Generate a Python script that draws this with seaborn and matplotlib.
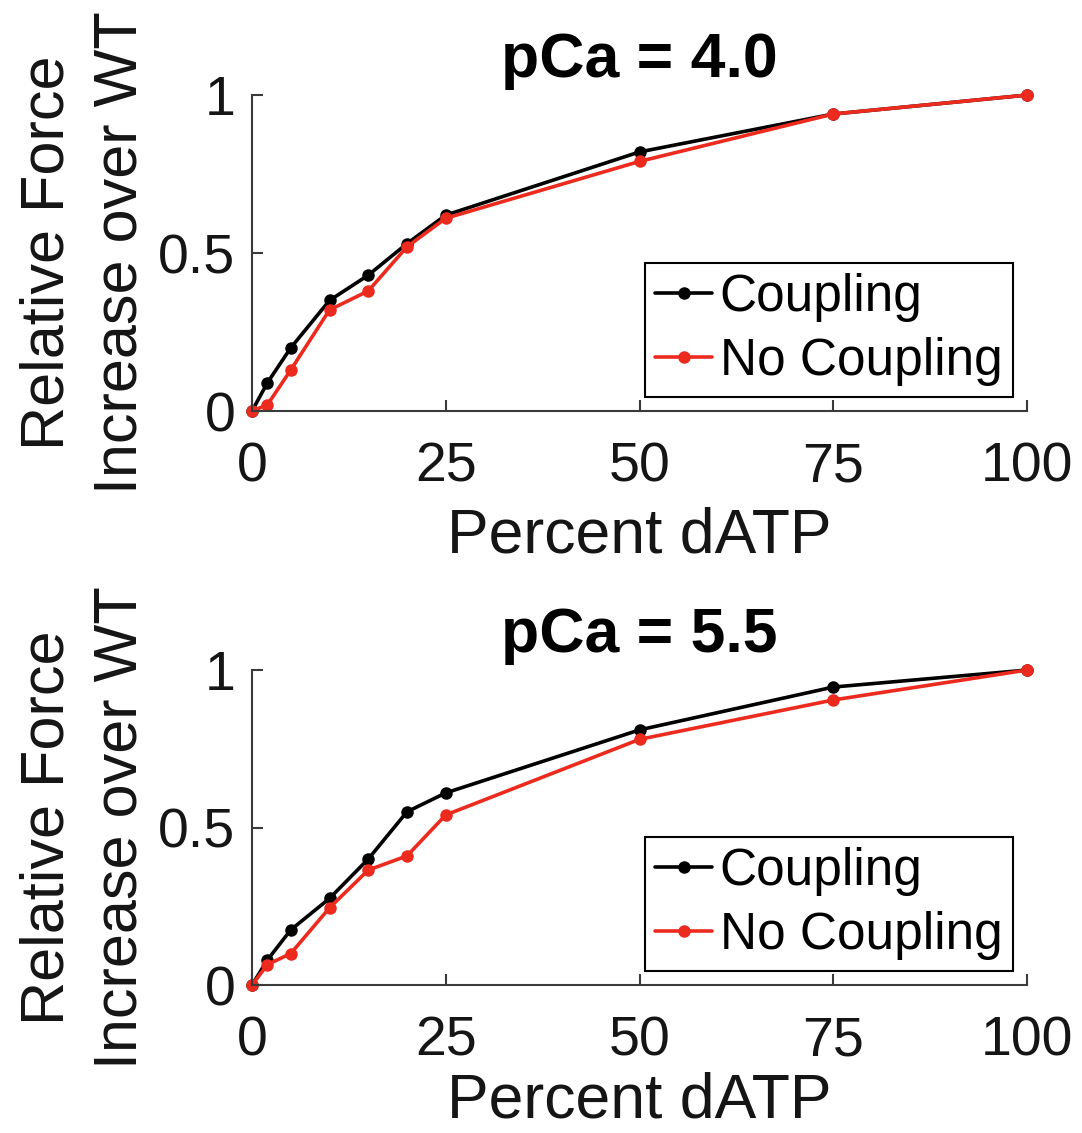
import numpy as np
import pandas as pd
import matplotlib
matplotlib.use("Agg")
import matplotlib.pyplot as plt
import seaborn as sns

# percent dATP levels used in both panels
pct_datp = [0, 2, 5, 10, 15, 20, 25, 50, 75, 100]

# pCa = 4.0
coupling_40 = [0.0, 0.09, 0.20, 0.35, 0.43, 0.53, 0.62, 0.82, 0.94, 1.0]
nocoupling_40 = [0.0, 0.02, 0.13, 0.32, 0.38, 0.52, 0.61, 0.79, 0.94, 1.0]

# pCa = 5.5
coupling_55 = [0.0, 0.08, 0.175, 0.275, 0.40, 0.55, 0.61, 0.81, 0.946, 1.0]
nocoupling_55 = [0.0, 0.065, 0.10, 0.245, 0.365, 0.41, 0.54, 0.78, 0.905, 1.0]

titles = ["pCa = 4.0", "pCa = 5.5"]
series_names = ["Coupling", "No Coupling"]

sns.set_style("white")
plt.rcParams['font.family'] = ['Liberation Sans', 'DejaVu Sans']

fig = plt.figure(figsize=(10.82, 11.33), dpi=100)
ax_top = fig.add_axes([0.2329, 0.6372, 0.7163, 0.2789])
ax_bot = fig.add_axes([0.2329, 0.1306, 0.7163, 0.2780])

palette = {"Coupling": "black", "No Coupling": "#ec2a1e"}
axis_col = "#3a3a3a"
txt_col = "#151515"

panels = [(ax_top, coupling_40, nocoupling_40, titles[0], 9),
          (ax_bot, coupling_55, nocoupling_55, titles[1], 3)]

for ax, c, nc, ttl, xpad in panels:
    df = pd.DataFrame({
        "Percent dATP": pct_datp * 2,
        "Force": c + nc,
        "Model": [series_names[0]] * len(c) + [series_names[1]] * len(nc),
    })
    sns.lineplot(data=df, x="Percent dATP", y="Force", hue="Model",
                 hue_order=series_names, palette=palette, marker="o",
                 markersize=9, markeredgewidth=0, linewidth=2.6,
                 clip_on=False, ax=ax)
    ax.set_xlim(0, 100)
    ax.set_ylim(0, 1)
    ax.set_xticks([0, 25, 50, 75, 100])
    ax.set_yticks([0, 0.5, 1])
    ax.set_yticklabels(["0", "0.5", "1"])
    for side in ["top", "right"]:
        ax.spines[side].set_visible(False)
    for side in ["left", "bottom"]:
        ax.spines[side].set_color(axis_col)
        ax.spines[side].set_linewidth(1.5)
    ax.tick_params(bottom=True, left=True, direction="in", length=8,
                   width=1.5, color=axis_col, labelsize=40,
                   labelcolor=txt_col)
    ax.tick_params(axis="x", pad=22)
    ax.tick_params(axis="y", pad=12)
    ax.set_xlabel("Percent dATP", fontsize=45, labelpad=xpad, color=txt_col)
    ax.set_ylabel("Relative Force\nIncrease over WT", fontsize=44,
                  labelpad=6, color=txt_col, linespacing=1.36)
    ax.set_title(ttl, fontsize=45, fontweight="bold", pad=13, color="black")
    leg = ax.legend(loc="lower right", fontsize=37, frameon=True,
                    fancybox=False, edgecolor="black", handlelength=1.1,
                    handletextpad=0.15, borderpad=0.2, labelspacing=0.3,
                    borderaxespad=0.28, framealpha=1)
    leg.get_frame().set_linewidth(1.5)
    for t in leg.get_texts():
        t.set_color("black")

fig.savefig("out.png", dpi=100)
